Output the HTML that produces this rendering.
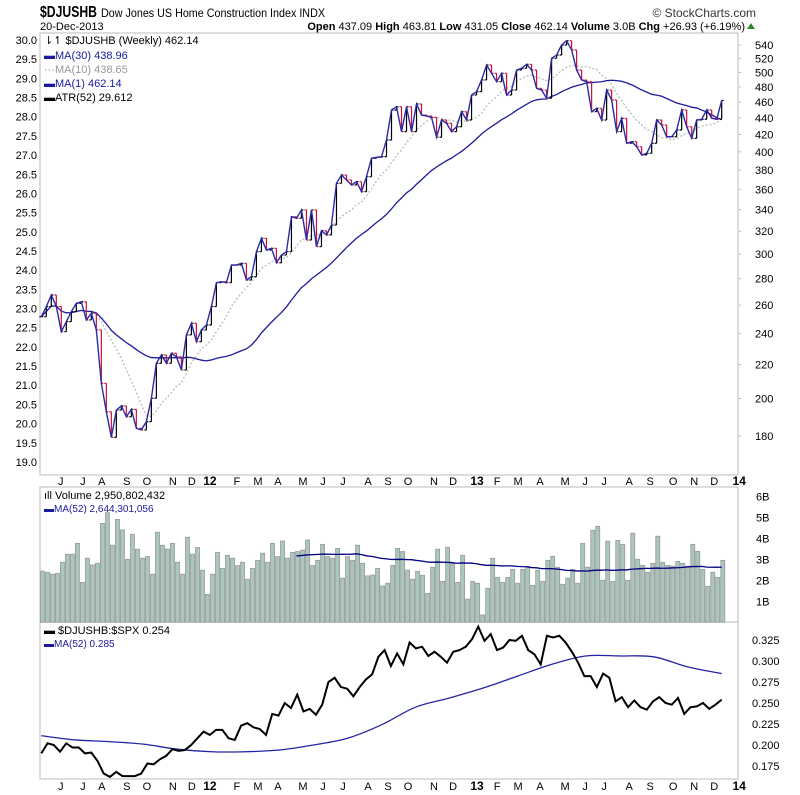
<!DOCTYPE html>
<html><head><meta charset="utf-8"><style>
body{margin:0;background:#fff;}
svg{display:block;font-family:"Liberation Sans",sans-serif;}
</style></head><body>
<svg id="chart" width="800" height="795" viewBox="0 0 800 795">
<rect x="0" y="0" width="800" height="795" fill="#fff"/>
<text x="40" y="17" font-size="16" font-weight="bold" fill="#000" textLength="57" lengthAdjust="spacingAndGlyphs">$DJUSHB</text>
<text x="101" y="17" font-size="12" fill="#000" textLength="224" lengthAdjust="spacingAndGlyphs">Dow Jones US Home Construction Index  INDX</text>
<text x="40" y="30" font-size="11" fill="#000">20-Dec-2013</text>
<text x="756" y="17" font-size="12" fill="#333" text-anchor="end">© StockCharts.com</text>
<text x="745" y="30" font-size="11" fill="#000" text-anchor="end"><tspan font-weight="bold">Open</tspan> 437.09 <tspan font-weight="bold">High</tspan> 463.81 <tspan font-weight="bold">Low</tspan> 431.05 <tspan font-weight="bold">Close</tspan> 462.14 <tspan font-weight="bold">Volume</tspan> 3.0B <tspan font-weight="bold">Chg</tspan> +26.93 (+6.19%)</text>
<polygon points="747,29 751,23 755,29" fill="#2a8a2a"/>
<rect x="40" y="33" width="698" height="442" fill="none" stroke="#bbb"/>
<rect x="40" y="487" width="698" height="135" fill="none" stroke="#bbb"/>
<rect x="40" y="622" width="698" height="157" fill="none" stroke="#bbb"/>
<g id="g"></g>
<g font-size="11">
<text x="44" y="44" fill="#000">⇂↿ $DJUSHB (Weekly) 462.14</text>
<text x="44" y="59" fill="#1a1aa0">▬MA(30) 438.96</text>
<text x="44" y="73" fill="#999">···MA(10) 438.65</text>
<text x="44" y="87" fill="#1a1aa0">▬MA(1) 462.14</text>
<text x="44" y="101" fill="#000">▬ATR(52) 29.612</text>
</g>
<g font-size="11">
<text x="44" y="499" fill="#000">ıll Volume 2,950,802,432</text>
<text x="44" y="512" fill="#1a1aa0" font-size="10">▬MA(52) 2,644,301,056</text>
</g>
<g font-size="11">
<text x="44" y="634" fill="#000">▬ $DJUSHB:$SPX  0.254</text>
<text x="44" y="647" fill="#1a1aa0" font-size="10">▬MA(52) 0.285</text>
</g>
</svg>
<script>
const closes=[251.7,258.9,267.5,259,241.3,248.2,255.3,261.3,262.5,249.4,254.1,242.5,208.7,192.7,179.3,193.6,195.9,190,194,183.9,183.1,187.4,200.1,220.8,226,220.8,227.1,224.9,216.7,239.1,247.1,234.6,242.5,245.9,259,276.9,277.7,276.9,291,291,292.4,279,281.6,302.1,313.7,303.5,305,292.9,299.3,302.1,333.3,331.8,339.7,312.2,339.7,306.4,320.5,316.6,325.6,366.1,374.8,369.5,364.4,367.8,357.6,373,392.8,393.9,394.5,413.5,449.9,454,423.3,454,423.3,457.5,443.6,442.3,440.7,416.7,437.4,433.4,423.3,429.2,447.7,437.4,469.2,473.6,489.5,510.5,498.7,487.1,498.7,469.2,475.8,503.4,505.8,511.5,503.4,478.1,475.8,464.9,520.2,525,540,546.6,532.5,503.4,489.5,487.1,447.7,452,437.4,475.8,462.7,423.3,439.5,409.7,411.5,405.8,396.4,398.3,409.7,437.4,431.3,417.3,417.3,425.3,449.9,429.2,415.5,437.4,438.3,449.9,439.5,438.3,462.14];
const volumes=[2.44,2.38,2.29,2.33,2.86,3.24,3.24,3.76,1.90,3.05,2.73,2.81,4.71,5.22,3.67,4.90,4.40,3.00,4.19,3.48,3.05,3.13,2.29,4.29,3.67,3.49,3.76,2.86,2.29,4.05,3.24,3.56,2.48,1.33,2.29,3.33,2.57,3.19,3.05,2.70,2.86,2.05,2.57,2.95,3.29,2.86,3.76,3.13,3.87,3.05,3.33,3.37,3.44,3.92,2.70,2.95,3.71,3.13,3.05,3.52,2.10,3.13,2.95,3.67,2.81,2.21,2.25,2.57,1.73,1.86,2.71,3.52,3.37,2.48,2.05,2.43,2.24,1.38,2.62,3.48,1.95,3.57,2.81,1.90,3.19,1.10,1.95,1.86,0.35,1.62,3.05,2.14,1.90,2.14,2.52,1.86,2.52,2.65,1.76,2.48,1.95,2.95,3.14,2.62,1.81,2.10,2.52,1.86,3.76,2.62,4.38,4.57,2.00,3.86,1.94,3.90,3.71,2.00,4.24,3.00,2.71,2.38,2.81,4.10,2.86,2.71,2.67,2.90,2.81,2.67,3.71,3.38,2.52,1.71,2.38,2.14,2.95];
const ratio=[0.190,0.202,0.200,0.192,0.202,0.197,0.197,0.190,0.191,0.181,0.166,0.162,0.168,0.163,0.163,0.163,0.166,0.178,0.177,0.183,0.187,0.195,0.193,0.194,0.200,0.208,0.216,0.212,0.218,0.218,0.208,0.206,0.223,0.226,0.221,0.219,0.212,0.237,0.235,0.250,0.244,0.260,0.240,0.243,0.236,0.248,0.275,0.280,0.269,0.267,0.258,0.269,0.278,0.284,0.305,0.313,0.294,0.309,0.296,0.322,0.315,0.317,0.306,0.311,0.305,0.298,0.311,0.313,0.317,0.326,0.341,0.324,0.332,0.313,0.316,0.325,0.324,0.330,0.313,0.308,0.296,0.330,0.328,0.330,0.322,0.311,0.298,0.282,0.282,0.269,0.285,0.280,0.252,0.257,0.245,0.253,0.245,0.242,0.252,0.257,0.250,0.248,0.256,0.237,0.245,0.246,0.250,0.243,0.248,0.254];
const ratioMA=[0.211,0.206,0.204,0.201,0.195,0.192,0.192,0.194,0.200,0.208,0.224,0.245,0.256,0.268,0.282,0.296,0.306,0.306,0.305,0.293,0.285];
const priceTicks=[540,520,500,480,460,440,420,400,380,360,340,320,300,280,260,240,220,200,180];
const atrTicks=[30.0,29.5,29.0,28.5,28.0,27.5,27.0,26.5,26.0,25.5,25.0,24.5,24.0,23.5,23.0,22.5,22.0,21.5,21.0,20.5,20.0,19.5,19.0];
const volTicks=[1,2,3,4,5,6];
const ratioTicks=[0.175,0.200,0.225,0.250,0.275,0.300,0.325];
const monthLabels=['J','J','A','S','O','N','D','12','F','M','A','M','J','J','A','S','O','N','D','13','F','M','A','M','J','J','A','S','O','N','D','14'];
const monthWeeks=[3.9,8.3,12.1,17.1,21.1,26.3,30.1,33.7,39.1,43.3,47.3,52.3,56.3,60.3,65.3,69.3,73.3,78.5,82.3,87.1,91.1,95.3,99.7,104.7,108.7,112.5,117.5,121.7,126.3,130.5,134.5,139.5];

const NS='http://www.w3.org/2000/svg';
const g=document.getElementById('g');
function mk(tag,attrs,parent){const e=document.createElementNS(NS,tag);for(const k in attrs)e.setAttribute(k,attrs[k]);(parent||g).appendChild(e);return e;}
const n=closes.length;
const xW=i=>41.3+i*(680.4/(n-1));
const yP=p=>45+355.9*Math.log(540/p);
const yA=v=>40+(30-v)*19.18/0.5;
const yV=v=>622.3-v*21;
const yR=r=>640+(0.325-r)*840;
const xR=i=>41.3+i*(680.4/(ratio.length-1));
const xRM=i=>41.3+i*(680.4/(ratioMA.length-1));
function smooth(pts){let d='M'+pts[0][0]+','+pts[0][1];for(let i=0;i<pts.length-1;i++){const p0=pts[Math.max(0,i-1)],p1=pts[i],p2=pts[i+1],p3=pts[Math.min(pts.length-1,i+2)];d+=` C${p1[0]+(p2[0]-p0[0])/6},${p1[1]+(p2[1]-p0[1])/6} ${p2[0]-(p3[0]-p1[0])/6},${p2[1]-(p3[1]-p1[1])/6} ${p2[0]},${p2[1]}`;}return d;}

priceTicks.forEach(p=>{
  const t=mk('text',{x:755,y:yP(p)+4,'font-size':11,fill:'#000'});t.textContent=p;
  
  
  const l=mk('line',{x1:738,x2:741,y1:yP(p),y2:yP(p),stroke:'#bbb'});
  
  
});
atrTicks.forEach(v=>{
  const t=mk('text',{x:37,y:yA(v)+4,'font-size':11,fill:'#000','text-anchor':'end'});t.textContent=v.toFixed(1);
  
  
});
volTicks.forEach(v=>{
  const t=mk('text',{x:756,y:yV(v)+4,'font-size':11,fill:'#000'});t.textContent=v+'B';
  
  
});
ratioTicks.forEach(v=>{
  const t=mk('text',{x:752,y:yR(v)+4,'font-size':11,fill:'#000'});t.textContent=v.toFixed(3);
  
  
});
[481,786].forEach(yy=>{
  monthLabels.forEach((m,k)=>{
    const bold=/\d/.test(m);
    const t=mk('text',{x:xW(monthWeeks[k]),y:yy+4,'font-size':bold?12:11,'font-weight':bold?'bold':'normal','text-anchor':'middle',fill:'#000'});
    t.textContent=m;
    
    
  });
});

function ma(arr,w){return arr.map((_,i)=>{const s=Math.max(0,i-w+1);let sum=0;for(let j=s;j<=i;j++)sum+=arr[j];return sum/(i-s+1);});}
const ma30=ma(closes,30),ma10=ma(closes,10);
const pl10=mk('polyline',{points:ma10.map((v,i)=>xW(i)+','+yP(v)).join(' '),fill:'none',stroke:'#bbb','stroke-width':1.3,'stroke-dasharray':'2,2'});


const pl30=mk('polyline',{points:ma30.map((v,i)=>xW(i)+','+yP(v)).join(' '),fill:'none',stroke:'#1c1c9c','stroke-width':1.3});



closes.forEach((c,i)=>{
  const o=i>0?closes[i-1]:c;
  const hi=Math.max(o,c),lo=Math.min(o,c);
  const col=c<o?'#d0103a':'#000';
  const x=xW(i);
  const b=mk('path',{d:`M${x},${yP(hi)}V${yP(lo)}M${x-2},${yP(o)}H${x}M${x},${yP(c)}H${x+2}`,stroke:col,'stroke-width':1.2,fill:'none'});
  
  
});
const pl1=mk('polyline',{points:closes.map((v,i)=>xW(i)+','+yP(v)).join(' '),fill:'none',stroke:'#2a2aa8','stroke-width':1.4});



volumes.forEach((v,i)=>{
  const r=mk('rect',{x:xW(i)+1.3-2.2,y:yV(v),width:4,height:622.3-yV(v),fill:'#a9c6bf',stroke:'#999','stroke-width':0.8});
  
  
});
const vma=volumes.map((_,i)=>{if(i<51)return null;let s=0;for(let j=i-51;j<=i;j++)s+=volumes[j];return s/52;});
const vpts=vma.map((v,i)=>v==null?null:xW(i)+','+yV(v)).filter(Boolean).join(' ');
const vml=mk('polyline',{points:vpts,fill:'none',stroke:'#000080','stroke-width':1.3});



const rma=mk('path',{d:smooth(ratioMA.map((v,i)=>[xRM(i),yR(v)])),fill:'none',stroke:'#2424a8','stroke-width':1.3});


const rl=mk('polyline',{points:ratio.map((v,i)=>xR(i)+','+yR(v)).join(' '),fill:'none',stroke:'#000','stroke-width':2});


</script>
</body></html>
